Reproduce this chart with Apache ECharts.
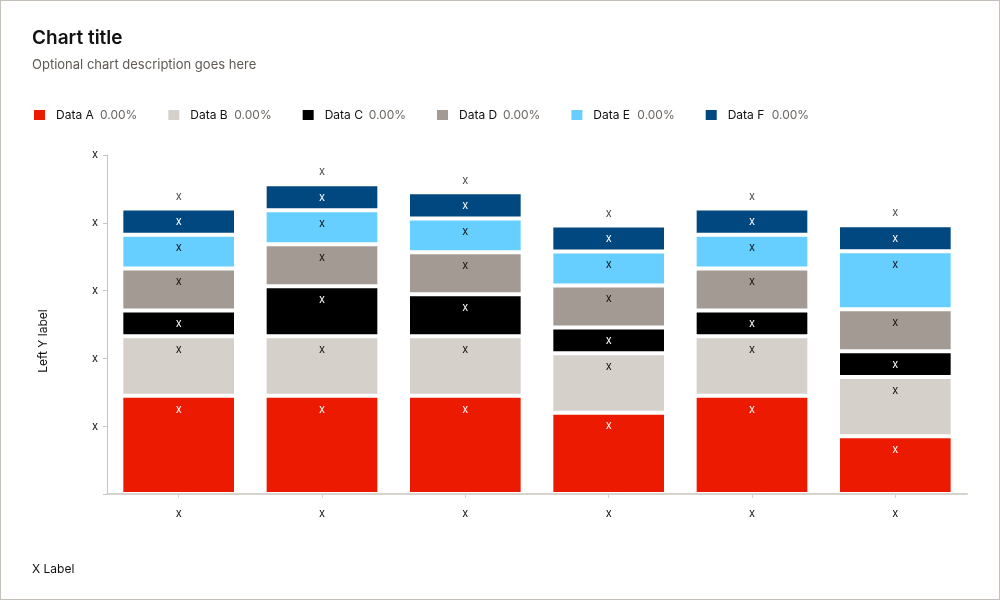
<!DOCTYPE html>
<html>
<head>
<meta charset="utf-8">
<script src="https://cdn.jsdelivr.net/npm/echarts@6/dist/echarts.min.js"></script>
<style>
  html, body { margin: 0; padding: 0; background: #fff; }
  #frame { width: 1000px; height: 600px; box-sizing: border-box; border: 1px solid #c4bfb8; position: relative; }
  #chart { position: absolute; left: -1px; top: -1px; width: 1000px; height: 600px; }
</style>
</head>
<body>
<div id="frame"><div id="chart"></div></div>
<script>
const categories = ['c1', 'c2', 'c3', 'c4', 'c5', 'c6'];
const xTickLabels = ['x', 'x', 'x', 'x', 'x', 'x'];
const seriesNames = ['Data A', 'Data B', 'Data C', 'Data D', 'Data E', 'Data F'];
const legendValues = ['0.00%', '0.00%', '0.00%', '0.00%', '0.00%', '0.00%'];
const dataA = [29, 29, 29, 24, 29, 17];
const dataB = [17.5, 17.5, 17.5, 17.5, 17.5, 17.5];
const dataC = [7.6, 14.8, 12.4, 7.6, 7.6, 7.6];
const dataD = [12.4, 12.4, 12.4, 12.4, 12.4, 12.4];
const dataE = [10, 10, 10, 10, 10, 17.1];
const dataF = [7.7, 7.7, 7.7, 7.7, 7.7, 7.7];
const segmentLabel = 'x';
const totalLabel = 'x';

const colors = ['#ec1a00', '#d5d0ca', '#000000', '#a39a93', '#66cfff', '#00487f'];
const labelColors = ['#ffffff', '#111111', '#ffffff', '#111111', '#111111', '#ffffff'];
const allData = [dataA, dataB, dataC, dataD, dataE, dataF];
const totals = categories.map((c, i) => allData.reduce((s, arr) => s + arr[i], 0));

const FONT = 'Inter, "Noto Sans", sans-serif';

const chart = echarts.init(document.getElementById('chart'));

const barSeries = seriesNames.map((name, k) => ({
  name,
  type: 'bar',
  stack: 'total',
  barCategoryGap: '20%',
  data: allData[k],
  itemStyle: { color: colors[k], borderColor: '#ffffff', borderWidth: 2 },
  label: {
    show: true,
    position: 'insideTop',
    distance: 8,
    formatter: segmentLabel,
    color: labelColors[k],
    fontSize: 11,
    fontFamily: FONT
  },
  emphasis: { disabled: true }
}));

chart.setOption({
  animation: false,
  color: colors,
  textStyle: { fontFamily: FONT },
  graphic: [
    { type: 'text', left: 32, top: 29, style: { text: 'Chart title', font: '600 19px ' + FONT, fill: '#111111' } },
    { type: 'text', left: 32, top: 59, style: { text: 'Optional chart description goes here', font: '13px ' + FONT, fill: '#5e5954' } },
    { type: 'text', x: 43, y: 341, rotation: Math.PI / 2, style: { text: 'Left Y label', font: '12px ' + FONT, fill: '#111111', align: 'center', verticalAlign: 'middle' } },
    { type: 'text', left: 32, top: 563, style: { text: 'X Label', font: '12px ' + FONT, fill: '#111111' } }
  ],
  legend: {
    left: 32,
    top: 108,
    padding: 0,
    itemWidth: 13,
    itemHeight: 12,
    itemGap: 29,
    icon: 'rect',
    selectedMode: false,
    data: seriesNames,
    formatter: (name) => `{n|${name}}{v|${legendValues[seriesNames.indexOf(name)]}}`,
    textStyle: {
      fontFamily: FONT,
      fontSize: 12,
      padding: [0, 0, 0, 5],
      rich: {
        n: { width: 44, fontSize: 12, color: '#111111', fontFamily: FONT },
        v: { width: 45, fontSize: 12, color: '#6b6560', fontFamily: FONT }
      }
    }
  },
  grid: { left: 107, right: 33, top: 155, bottom: 106, containLabel: false },
  xAxis: {
    type: 'category',
    data: categories,
    z: 5,
    axisLine: { lineStyle: { color: '#d6d2cc', width: 2 } },
    axisTick: { show: true, alignWithLabel: true, length: 4, lineStyle: { color: '#d6d2cc' } },
    axisLabel: { formatter: (v, i) => xTickLabels[i], color: '#111111', fontSize: 11, margin: 14, fontFamily: FONT }
  },
  yAxis: {
    type: 'value',
    min: 0,
    max: 100,
    interval: 20,
    splitLine: { show: false },
    axisLine: { show: true, lineStyle: { color: '#c8c4be' } },
    axisTick: { show: true, length: 4, lineStyle: { color: '#c8c4be' } },
    axisLabel: { formatter: (v) => (v === 0 ? '' : 'x'), color: '#111111', fontSize: 11, margin: 9, fontFamily: FONT }
  },
  series: barSeries.concat([{
    name: 'total',
    type: 'scatter',
    data: totals,
    symbolSize: 1,
    itemStyle: { color: 'rgba(0,0,0,0)' },
    silent: true,
    label: {
      show: true,
      position: 'top',
      distance: 6,
      formatter: totalLabel,
      color: '#111111',
      fontSize: 11,
      fontFamily: FONT
    }
  }])
});
</script>
</body>
</html>
